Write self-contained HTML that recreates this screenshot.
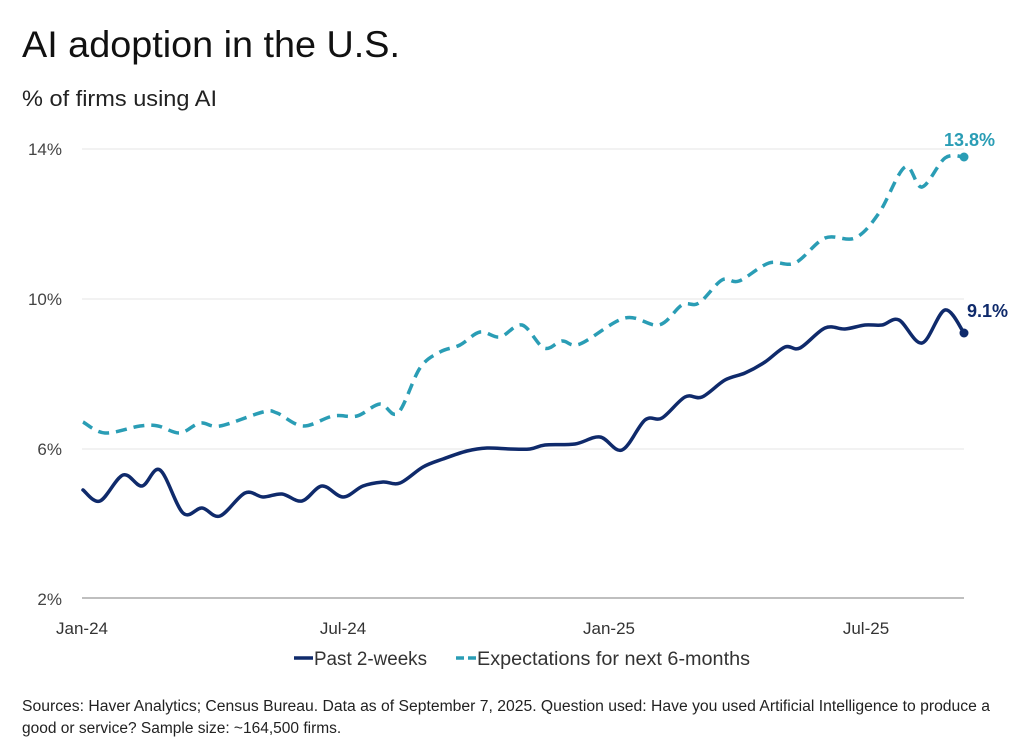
<!DOCTYPE html>
<html><head><meta charset="utf-8"><style>
body{margin:0;background:#fff;width:1024px;height:749px;overflow:hidden;font-family:"Liberation Sans",sans-serif;}
</style></head><body>
<svg width="1024" height="749" xmlns="http://www.w3.org/2000/svg" font-family="Liberation Sans, sans-serif">
<text x="22" y="57" font-size="37" fill="#111" textLength="378" lengthAdjust="spacingAndGlyphs">AI adoption in the U.S.</text>
<text x="22" y="106" font-size="22" fill="#222" textLength="195" lengthAdjust="spacingAndGlyphs">% of firms using AI</text>
<g stroke="#e4e4e4" stroke-width="1"><line x1="82" y1="149" x2="964" y2="149"/><line x1="82" y1="299" x2="964" y2="299"/><line x1="82" y1="449" x2="964" y2="449"/></g>
<line x1="82" y1="598" x2="964" y2="598" stroke="#999" stroke-width="1.2"/>
<g font-size="17" fill="#444" text-anchor="end"><text x="62" y="155">14%</text><text x="62" y="305">10%</text><text x="62" y="455">6%</text><text x="62" y="605">2%</text></g>
<g font-size="17" fill="#333" text-anchor="middle"><text x="82" y="634">Jan-24</text><text x="343" y="634">Jul-24</text><text x="609" y="634">Jan-25</text><text x="866" y="634">Jul-25</text></g>
<path id="s1" fill="none" stroke="#0f2a6b" stroke-width="3.5" stroke-linecap="round"/>
<path id="s2" fill="none" stroke="#2a9db5" stroke-width="3.5" stroke-dasharray="11,7"/>
<circle cx="964" cy="333" r="4.5" fill="#0f2a6b"/><circle cx="964" cy="157" r="4.5" fill="#2a9db5"/>
<text x="944" y="146" font-size="18" font-weight="bold" fill="#2a9db5">13.8%</text>
<text x="967" y="317" font-size="18" font-weight="bold" fill="#0f2a6b">9.1%</text>
<line x1="294" y1="658" x2="313" y2="658" stroke="#0f2a6b" stroke-width="3.5"/>
<text x="314" y="665" font-size="19" fill="#333" textLength="113" lengthAdjust="spacingAndGlyphs">Past 2-weeks</text>
<line x1="456" y1="658" x2="464" y2="658" stroke="#2a9db5" stroke-width="3.5"/><line x1="468" y1="658" x2="476" y2="658" stroke="#2a9db5" stroke-width="3.5"/>
<text x="477" y="665" font-size="19" fill="#333" textLength="273" lengthAdjust="spacingAndGlyphs">Expectations for next 6-months</text>
<text x="22" y="711" font-size="15.5" fill="#222" textLength="968" lengthAdjust="spacingAndGlyphs">Sources: Haver Analytics; Census Bureau. Data as of September 7, 2025. Question used: Have you used Artificial Intelligence to produce a</text>
<text x="22" y="733" font-size="15.5" fill="#222">good or service? Sample size: ~164,500 firms.</text>
</svg>
<script>
function cr(p){var d="M"+p[0][0]+","+p[0][1];for(var i=0;i<p.length-1;i++){var a=p[i-1]||p[i],b=p[i],c=p[i+1],e=p[i+2]||c;d+=" C"+(b[0]+(c[0]-a[0])/6)+","+(b[1]+(c[1]-a[1])/6)+" "+(c[0]-(e[0]-b[0])/6)+","+(c[1]-(e[1]-b[1])/6)+" "+c[0]+","+c[1];}return d;}
var a=[[83,490],[100,501],[123,475],[142,486],[160,470],[183,513],[202,508],[220,516],[245,493],[263,497],[282,494],[302,501],[322,486],[343,497],[363,486],[383,482],[400,483],[423,467],[443,459],[467,451],[487,448],[510,449],[530,449],[545,445],[575,444],[600,437],[622,450],[645,420],[662,418],[685,397],[702,397],[725,380],[745,373],[765,362],[785,347],[800,348],[825,328],[845,329],[865,325],[882,325],[899,320],[922,343],[945,310],[964,333]];
var b=[[83,422],[105,433],[140,426],[158,426],[180,433],[200,423],[220,426],[263,412],[277,413],[303,426],[333,416],[357,416],[380,404],[398,413],[420,368],[440,352],[460,345],[480,332],[500,337],[522,325],[544,348],[562,341],[580,344],[625,318],[659,325],[682,305],[699,303],[722,280],[739,281],[769,263],[795,263],[825,238],[855,238],[879,213],[905,167],[922,187],[945,158],[964,157]];
document.getElementById("s1").setAttribute("d",cr(a));document.getElementById("s2").setAttribute("d",cr(b));
</script>
</body></html>
